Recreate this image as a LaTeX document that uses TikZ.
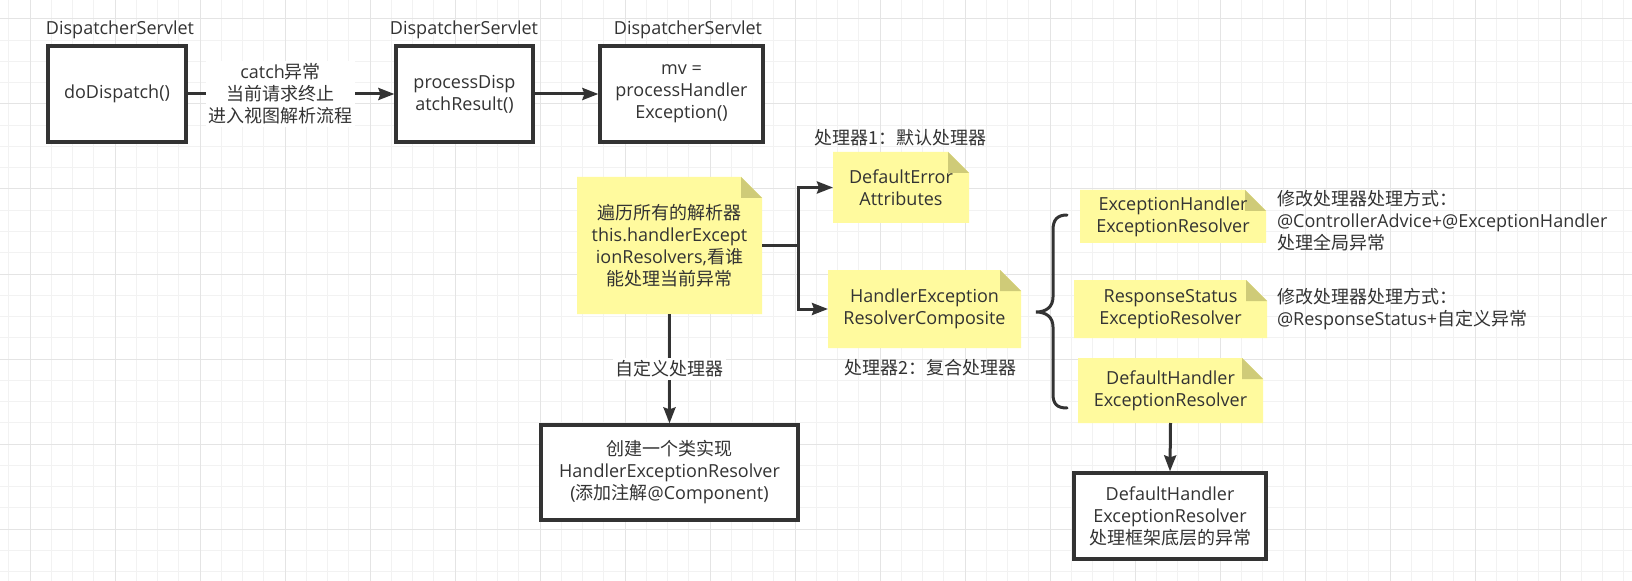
\documentclass[tikz,border=0pt]{standalone}
\usepackage{fontspec}
\setmainfont{Open Sans}
\newfontfamily\zhfont{Noto Sans CJK SC}
\newcommand\zh[1]{{\zhfont #1}}
\usetikzlibrary{arrows.meta,calc}
\pgfdeclarelayer{background}
\pgfsetlayers{background,main}
\definecolor{ink}{HTML}{333333}
\definecolor{notefill}{HTML}{FFFA9E}
\definecolor{notefold}{HTML}{CFCB78}
\definecolor{gridmin}{HTML}{F2F2F2}
\definecolor{gridmaj}{HTML}{E4E4E4}
\newcommand\pxu{0.75pt}
\begin{document}
\begin{tikzpicture}[x=0.75pt,y=-0.75pt,
  every node/.style={text=ink, font=\fontsize{13.5}{16.5}\selectfont, inner sep=0pt, outer sep=0pt},
  plainbox/.style={draw=ink, line width=2.4pt, fill=white, align=center, outer sep=1.2pt},
  notebox/.style={align=center},
  lbl/.style={align=center},
  sidetext/.style={align=left, anchor=west},
  conn/.style={draw=ink, line width=2.25pt, -{Stealth[length=12pt,width=9pt,inset=1.5pt]}},
  wire/.style={draw=ink, line width=2.25pt},
  elabel/.style={fill=white, align=center, inner sep=2pt},
  gmin/.style={draw=gridmin, line width=0.75pt},
  gmaj/.style={draw=gridmaj, line width=0.75pt},
]
\useasboundingbox (0,0) rectangle (1632,581);

% top row
\node[lbl] (lab1) at (120,30) {DispatcherServlet};
\node[plainbox, minimum width=138*\pxu, minimum height=96*\pxu] (box1) at (117,94) {doDispatch()};
\node[lbl] (lab2) at (464,30) {DispatcherServlet};
\node[plainbox, minimum width=137*\pxu, minimum height=96*\pxu] (box2) at (464.5,94) {processDisp\\atchResult()};
\node[lbl] (lab3) at (688,30) {DispatcherServlet};
\node[plainbox, minimum width=163*\pxu, minimum height=96*\pxu] (box3) at (681.5,94) {mv =\\processHandler\\Exception()};

% notes
\node[notebox, minimum width=185*\pxu, minimum height=137*\pxu] (scan) at (669.5,245.5)
  {\zh{遍历所有的解析器}\\this.handlerExcept\\ionResolvers,\zh{看谁}\\\zh{能处理当前异常}};
\node[notebox, minimum width=136*\pxu, minimum height=71*\pxu] (dea) at (901,187.5) {DefaultError\\Attributes};
\node[lbl] (t1) at (900.5,138) {\zh{处理器1：默认处理器}};
\node[notebox, minimum width=193*\pxu, minimum height=78*\pxu] (herc) at (924.5,309) {HandlerException\\ResolverComposite};
\node[lbl] (t2) at (930,368) {\zh{处理器2：复合处理器}};

\node[plainbox, minimum width=257*\pxu, minimum height=95*\pxu] (custom) at (669.5,472.5)
  {\zh{创建一个类实现}\\HandlerExceptionResolver\\(\zh{添加注解}@Component)};

\node[notebox, minimum width=186*\pxu, minimum height=53*\pxu] (ehr) at (1173,216.5) {ExceptionHandler\\ExceptionResolver};
\node[notebox, minimum width=193*\pxu, minimum height=58*\pxu] (rse) at (1170.5,309) {ResponseStatus\\ExceptioResolver};
\node[notebox, minimum width=185*\pxu, minimum height=65*\pxu] (dhr) at (1170.5,390.5) {DefaultHandler\\ExceptionResolver};

\node[sidetext] (s1) at (1277,220.5) {\zh{修改处理器处理方式：}\\@ControllerAdvice+@ExceptionHandler\\\zh{处理全局异常}};
\node[sidetext] (s2) at (1277,309.5) {\zh{修改处理器处理方式：}\\@ResponseStatus+\zh{自定义异常}};

\node[plainbox, minimum width=192*\pxu, minimum height=86*\pxu] (dhbox) at (1170,516)
  {DefaultHandler\\ExceptionResolver\\\zh{处理框架底层的异常}};

% connectors
\draw[conn] (box1) -- node[elabel, pos=0.45]{catch\zh{异常}\\\zh{当前请求终止}\\\zh{进入视图解析流程}} (box2);
\draw[conn] (box2) -- (box3);
\coordinate (split) at (798,245.5);
\draw[conn] (scan.east) -- (split) |- (dea.west);
\draw[conn] (scan.east) -- (split) |- (herc.west);
\draw[conn] (scan.south) -- node[elabel]{\zh{自定义处理器}} (custom.north);
\draw[conn] (dhr.south) -- (dhbox.north);

% brace
\draw[ink, line width=2.25pt, line cap=round]
  (1067,215) .. controls (1057,215) and (1053,220) .. (1053,230) -- (1053,297)
  .. controls (1053,307) and (1046,312) .. (1036,312)
  .. controls (1046,312) and (1053,317) .. (1053,327) -- (1053,394)
  .. controls (1053,404) and (1057,408) .. (1067,408);

\begin{pgfonlayer}{background}
  \fill[white] (0,0) rectangle (1632,581);
  \foreach \k in {-1,...,75} {\draw[gmin] ({30+21.25*\k},0) -- ({30+21.25*\k},581);}
  \foreach \k in {0,...,26} {\draw[gmin] (0,{19+21.25*\k}) -- (1632,{19+21.25*\k});}
  \foreach \k in {0,...,18} {\draw[gmaj] ({30+85*\k},0) -- ({30+85*\k},581);}
  \foreach \k in {0,...,6} {\draw[gmaj] (0,{19+85*\k}) -- (1632,{19+85*\k});}
  \foreach \n in {scan,dea,herc,ehr,rse,dhr} {
    \fill[notefill] (\n.north west) -- ($(\n.north east)+(-21,0)$) -- ($(\n.north east)+(0,21)$)
      -- (\n.south east) -- (\n.south west) -- cycle;
    \fill[notefold] ($(\n.north east)+(-21,0)$) -- ($(\n.north east)+(-21,21)$) -- ($(\n.north east)+(0,21)$) -- cycle;
  }
\end{pgfonlayer}
\end{tikzpicture}
\end{document}
